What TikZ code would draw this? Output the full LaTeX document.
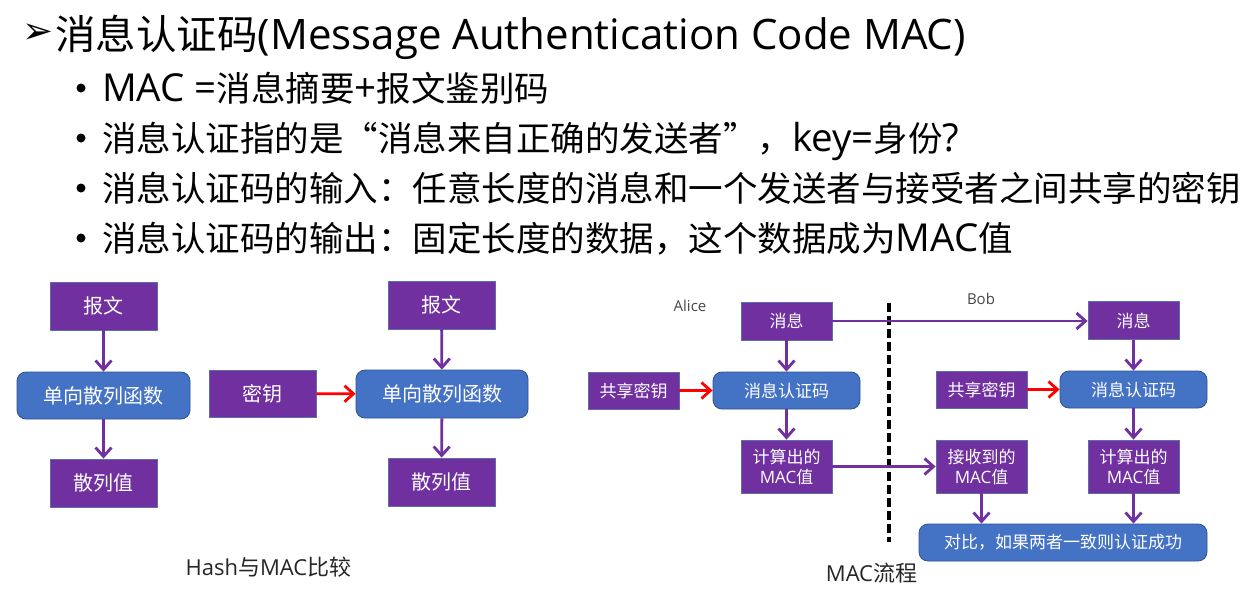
\documentclass[tikz,border=0pt]{standalone}
\usepackage{fontspec}
\setmainfont{Open Sans}
\newfontfamily\cjk{Noto Sans CJK SC}
\newfontfamily\symfont{DejaVu Sans}
\usetikzlibrary{arrows.meta}
\newcommand\zh[1]{{\cjk #1}}
% Latin runs inside the large text are set a little larger than the CJK runs
\newcommand\lat[1]{{\fontsize{38.5}{40}\selectfont #1}}
\definecolor{boxpurple}{HTML}{7030A0}
\definecolor{boxblue}{HTML}{4472C4}
\definecolor{blueedge}{HTML}{2F528F}
\definecolor{purpleedge}{HTML}{5A6FA8}
\definecolor{captext}{HTML}{262626}
\tikzset{
  line/.style={anchor=base west, inner sep=0pt},
  bullettext/.style={line, font=\fontsize{34.5}{38}\selectfont},
  pbox/.style={fill=boxpurple, draw=purpleedge, line width=0.8pt, text=white,
    align=center, inner sep=0pt},
  bbox/.style={fill=boxblue, draw=blueedge, line width=0.8pt, rounded corners=9pt,
    text=white, align=center, inner sep=0pt},
  flow/.style={draw=boxpurple, line width=2.8pt,
    -{Straight Barb[length=9pt,width=16pt]}},
  keyflow/.style={flow, draw=red},
  big/.style={font=\fontsize{20}{24}\selectfont},
  small/.style={font=\fontsize{17}{20}\selectfont},
}
\begin{document}
\begin{tikzpicture}[x=1pt,y=-1pt]
\useasboundingbox (0,0) rectangle (1248,590);
\fill[white] (0,0) rectangle (1248,590);

% heading and bullet list
\node[inner sep=0pt, font=\symfont\fontsize{37}{40}\selectfont] (arrowmark) at (38.5,33.5) {➢};
\node[line, font=\fontsize{40.5}{44}\selectfont] (title) at (55,49)
  {\zh{消息认证码}{\fontsize{42}{44}\selectfont(Message Authentication Code MAC)}};
\foreach \y/\n in {88/1,138/2,188/3,238/4}
  \fill[black] (81,\y) circle[radius=4.5pt] coordinate (dot\n);
\node[bullettext] (b1) at (102,101)
  {\lat{MAC =}\zh{消息摘要}\lat{+}\zh{报文鉴别码}};
\node[bullettext] (b2) at (102,151)
  {\zh{消息认证指的是“消息来自正确的发送者”，}\lat{key=}\zh{身份}\lat{?}};
\node[bullettext] (b3) at (102,201)
  {\zh{消息认证码的输入：任意长度的消息和一个发送者与接受者之间共享的密钥}};
\node[bullettext] (b4) at (102,251)
  {\zh{消息认证码的输出：固定长度的数据，这个数据成为}\lat{MAC}\zh{值}};

% hash versus MAC
\node[pbox, big, minimum width=107pt, minimum height=48pt] (h1) at (103.5,306) {\zh{报文}};
\node[bbox, big, minimum width=173pt, minimum height=47pt] (h2) at (103.5,395.5) {\zh{单向散列函数}};
\node[pbox, big, minimum width=107pt, minimum height=48pt] (h3) at (103.5,483) {\zh{散列值}};
\node[pbox, big, minimum width=107pt, minimum height=47pt] (k) at (262.5,393.5) {\zh{密钥}};
\node[pbox, big, minimum width=107pt, minimum height=48pt] (m1) at (441.5,305) {\zh{报文}};
\node[bbox, big, minimum width=172pt, minimum height=48pt] (m2) at (442,394) {\zh{单向散列函数}};
\node[pbox, big, minimum width=107pt, minimum height=48pt] (m3) at (441.5,482) {\zh{散列值}};
\draw[flow] (h1) -- (h2);
\draw[flow] (h2) -- (h3);
\draw[flow] (m1) -- (m2);
\draw[flow] (m2) -- (m3);
\draw[keyflow] (k) -- (m2);
\node[text=captext, font=\fontsize{22}{24}\selectfont, inner sep=0pt] (cap1) at (268.5,567)
  {Hash\zh{与}MAC\zh{比较}};

% MAC exchange between Alice and Bob
\node[text=captext!85, font=\fontsize{15}{17}\selectfont, inner sep=0pt] (alice) at (690,306) {Alice};
\node[text=captext!85, font=\fontsize{15}{17}\selectfont, inner sep=0pt] (bob) at (981,299) {Bob};
\node[pbox, small, minimum width=91pt, minimum height=38pt] (aMsg) at (786.5,321) {\zh{消息}};
\node[bbox, small, minimum width=147pt, minimum height=37pt] (aMac) at (786.5,390.5) {\zh{消息认证码}};
\node[pbox, small, minimum width=91pt, minimum height=37pt] (aKey) at (633.5,390.5) {\zh{共享密钥}};
\node[pbox, small, minimum width=91pt, minimum height=53pt] (aOut) at (786.5,466.5) {\zh{计算出的}\\MAC\zh{值}};
\node[pbox, small, minimum width=91pt, minimum height=38pt] (bMsg) at (1133.5,320.5) {\zh{消息}};
\node[pbox, small, minimum width=91pt, minimum height=37pt] (bKey) at (981.5,389.5) {\zh{共享密钥}};
\node[bbox, small, minimum width=147pt, minimum height=37pt] (bMac) at (1133.5,389.5) {\zh{消息认证码}};
\node[pbox, small, minimum width=91pt, minimum height=53pt] (bIn) at (981.5,466.5) {\zh{接收到的}\\MAC\zh{值}};
\node[pbox, small, minimum width=91pt, minimum height=53pt] (bOut) at (1133.5,466.5) {\zh{计算出的}\\MAC\zh{值}};
\node[bbox, small, minimum width=288pt, minimum height=37pt] (cmp) at (1063,542.5)
  {\zh{对比，如果两者一致则认证成功}};

\coordinate (sepTop) at (889,303);
\coordinate (sepBot) at (889,542);
\draw[black, line width=3.2pt, dash pattern=on 9pt off 4pt] (sepTop) -- (sepBot);

\draw[flow] (aMsg.east) -- (aMsg.east -| bMsg.west);
\draw[flow] (aMsg) -- (aMac);
\draw[keyflow] (aKey) -- (aMac);
\draw[flow] (aMac) -- (aOut);
\draw[flow] (aOut.east) -- (aOut.east -| bIn.west);
\draw[flow] (bMsg) -- (bMac);
\draw[keyflow] (bKey) -- (bMac);
\draw[flow] (bMac) -- (bOut);
\draw[flow] (bIn.south) -- (bIn.south |- cmp.north);
\draw[flow] (bOut.south) -- (bOut.south |- cmp.north);

\node[text=captext, font=\fontsize{22}{24}\selectfont, inner sep=0pt] (cap2) at (871.5,573)
  {MAC\zh{流程}};
\end{tikzpicture}
\end{document}
